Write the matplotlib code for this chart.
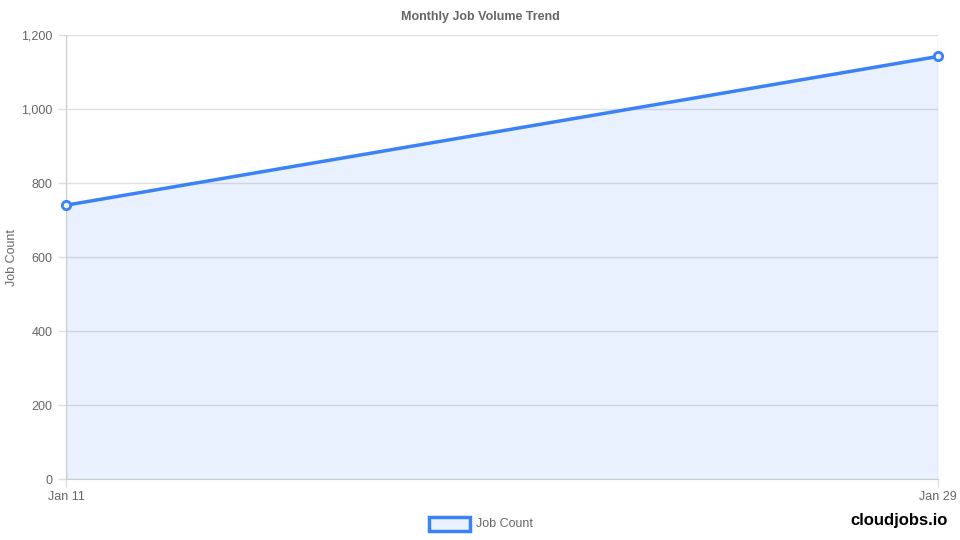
import matplotlib
matplotlib.use("Agg")
import matplotlib.pyplot as plt
from matplotlib.patches import Rectangle

plt.rcParams['font.family'] = ['Liberation Sans', 'DejaVu Sans']

dates = ["Jan 11", "Jan 29"]
job_counts = [740, 1142]
y_ticks = [0, 200, 400, 600, 800, 1000, 1200]

line_color = "#3b82f6"
fill_color = (59/255, 130/255, 246/255, 0.11)
text_color = "#666666"
grid_color = "#e0e0e0"

fig = plt.figure(figsize=(9.6, 5.4), dpi=100)
ax = fig.add_axes([66/960, 1 - 479/540, (938 - 66)/960, (479 - 35)/540])

x = list(range(len(dates)))
ax.fill_between(x, job_counts, 0, color=fill_color, linewidth=0)
ax.plot(x, job_counts, color=line_color, linewidth=2.5, marker='o', markersize=6,
        markerfacecolor=(0.92, 0.95, 1.0), markeredgecolor=line_color, markeredgewidth=2,
        clip_on=False, zorder=3)

ax.set_xlim(0, len(dates) - 1)
ax.set_ylim(0, 1200)
ax.set_xticks(x)
ax.set_xticklabels(dates)
ax.set_yticks(y_ticks)
ax.set_yticklabels([f"{v:,}" for v in y_ticks])
ax.tick_params(axis='both', colors=grid_color, labelcolor=text_color, labelsize=9, length=6, width=1)
ax.tick_params(axis='x', pad=3)
ax.grid(True, color=grid_color, linewidth=1)
ax.set_axisbelow(True)
for side in ['top', 'right']:
    ax.spines[side].set_visible(False)
for side in ['left', 'bottom']:
    ax.spines[side].set_color("#cccccc")

ax.set_ylabel("Job Count", color=text_color, fontsize=9)
ax.yaxis.label.set_va('center')
ax.yaxis.set_label_coords(-54/872, 0.5)

fig.text(0.5, 1 - 17/540, "Monthly Job Volume Trend", ha='center', va='center',
         fontsize=9, fontweight='bold', color=text_color)

# legend
lx, ly, lw, lh = 429/960, 1 - 531/540, 41/960, 14/540
fig.patches.append(Rectangle((lx, ly), lw, lh, transform=fig.transFigure,
                             facecolor=(0.92, 0.95, 1.0), edgecolor=line_color, linewidth=2.5))
fig.text(476/960, 1 - 524/540, "Job Count", ha='left', va='center', fontsize=9, color=text_color)

fig.text(948/960, 1 - 521/540, "cloudjobs.io", ha='right', va='center', fontsize=12,
         fontweight='bold', color='black')

fig.savefig("out.png", dpi=100)
